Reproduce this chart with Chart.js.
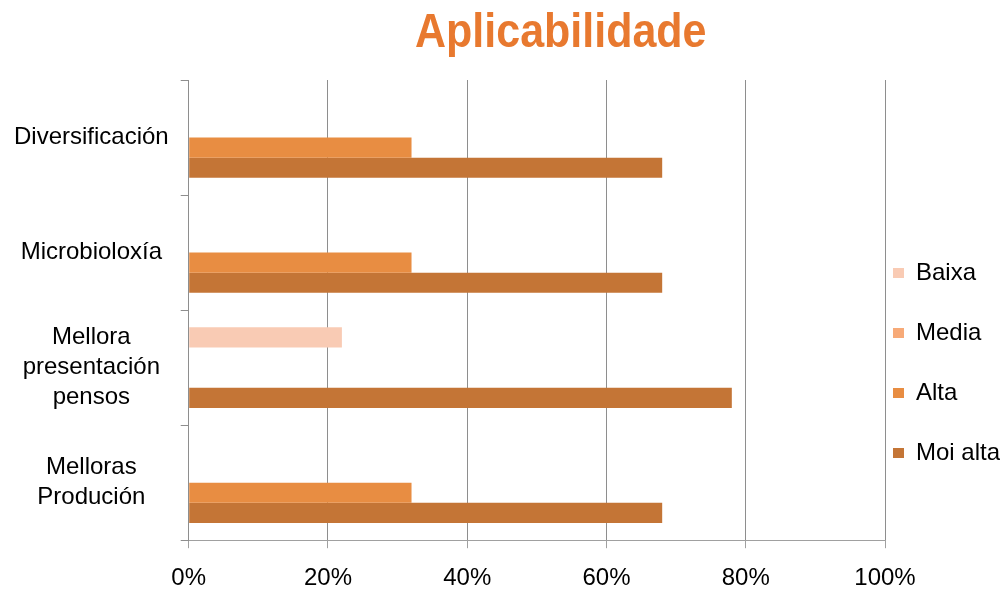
<!DOCTYPE html>
<html lang="gl">
<head>
<meta charset="utf-8">
<title>Aplicabilidade</title>
<script src="https://cdn.jsdelivr.net/npm/chart.js@4/dist/chart.umd.min.js"></script>
<style>
  html, body { margin: 0; padding: 0; background: #fff; overflow: hidden; }
  #wrap { position: relative; width: 1000px; height: 589px; overflow: hidden; }
  #title {
    position: absolute;
    left: 415px;
    top: 7px;
    margin: 0;
    font: bold 43px "Liberation Sans", Arial, sans-serif;
    line-height: 1;
    color: #E8792F;
    transform: scaleY(1.12);
    transform-origin: left top;
    white-space: nowrap;
    z-index: 1;
  }
  canvas { display: block; }
</style>
</head>
<body>
<div id="wrap">
  <h1 id="title">Aplicabilidade</h1>
  <!-- canvas is a bit taller than the window so the x labels sit lower under the axis -->
  <canvas id="chart" width="1000" height="609"></canvas>
</div>
<script>
const CATEGORIES = [
  "Diversificación",
  "Microbioloxía",
  ["Mellora", "presentación", "pensos"],
  ["Melloras", "Produción"]
];
const SERIES_NAMES = ["Baixa", "Media", "Alta", "Moi alta"];
const BAIXA = [0, 0, 22, 0];
const MEDIA = [0, 0, 0, 0];
const ALTA = [32, 32, 0, 32];
const MOI_ALTA = [68, 68, 78, 68];
const X_TICKS = [0, 20, 40, 60, 80, 100];

const COLORS = ["#F9CBB4", "#F7AA78", "#E88D42", "#C47536"];
const FONT = "'Liberation Sans', Arial, sans-serif";
const GRID = "#8E8E8E";
const AXIS = "#A0A0A0";

function makeDatasets() {
  const values = [BAIXA, MEDIA, ALTA, MOI_ALTA];
  return SERIES_NAMES.map((name, i) => ({
    label: name,
    data: values[i],
    backgroundColor: COLORS[i],
    borderWidth: 0,
    categoryPercentage: 0.7,
    barPercentage: 1.0
  }));
}

function legendLabels(chart) {
  // wrap text in an array so the legend uses the font lineHeight as row height
  const items = Chart.defaults.plugins.legend.labels.generateLabels(chart);
  return items.map((item) => Object.assign(item, { text: [item.text], lineWidth: 0 }));
}

new Chart(document.getElementById("chart"), {
  type: "bar",
  data: {
    labels: CATEGORIES,
    datasets: makeDatasets()
  },
  options: {
    indexAxis: "y",
    responsive: false,
    animation: false,
    layout: {
      padding: { top: 80, left: 2, right: 0, bottom: 0 }
    },
    plugins: {
      title: { display: false },
      tooltip: { enabled: false },
      legend: {
        position: "right",
        align: "start",
        maxWidth: 115,
        title: {
          display: true,
          text: "",
          font: { size: 1, lineHeight: 1 },
          padding: { top: 172, bottom: 0 }
        },
        labels: {
          boxWidth: 11,
          boxHeight: 10,
          padding: 8,
          color: "#000",
          font: { family: FONT, size: 24, lineHeight: 52 / 24 },
          generateLabels: legendLabels
        }
      }
    },
    scales: {
      x: {
        min: 0,
        max: 100,
        afterBuildTicks(scale) {
          scale.ticks = X_TICKS.map((v) => ({ value: v }));
        },
        grid: {
          color: GRID,
          tickLength: 8,
          tickColor: AXIS
        },
        border: { color: AXIS },
        ticks: {
          color: "#000",
          padding: 16,
          maxRotation: 0,
          font: { family: FONT, size: 24 },
          callback(value) {
            return value + "%";
          }
        }
      },
      y: {
        grid: {
          drawOnChartArea: false,
          offset: true,
          tickLength: 8,
          color: GRID
        },
        border: { color: GRID },
        ticks: {
          color: "#000",
          padding: 12,
          crossAlign: "center",
          font: { family: FONT, size: 24, lineHeight: 1.25 }
        }
      }
    }
  }
});
</script>
</body>
</html>
